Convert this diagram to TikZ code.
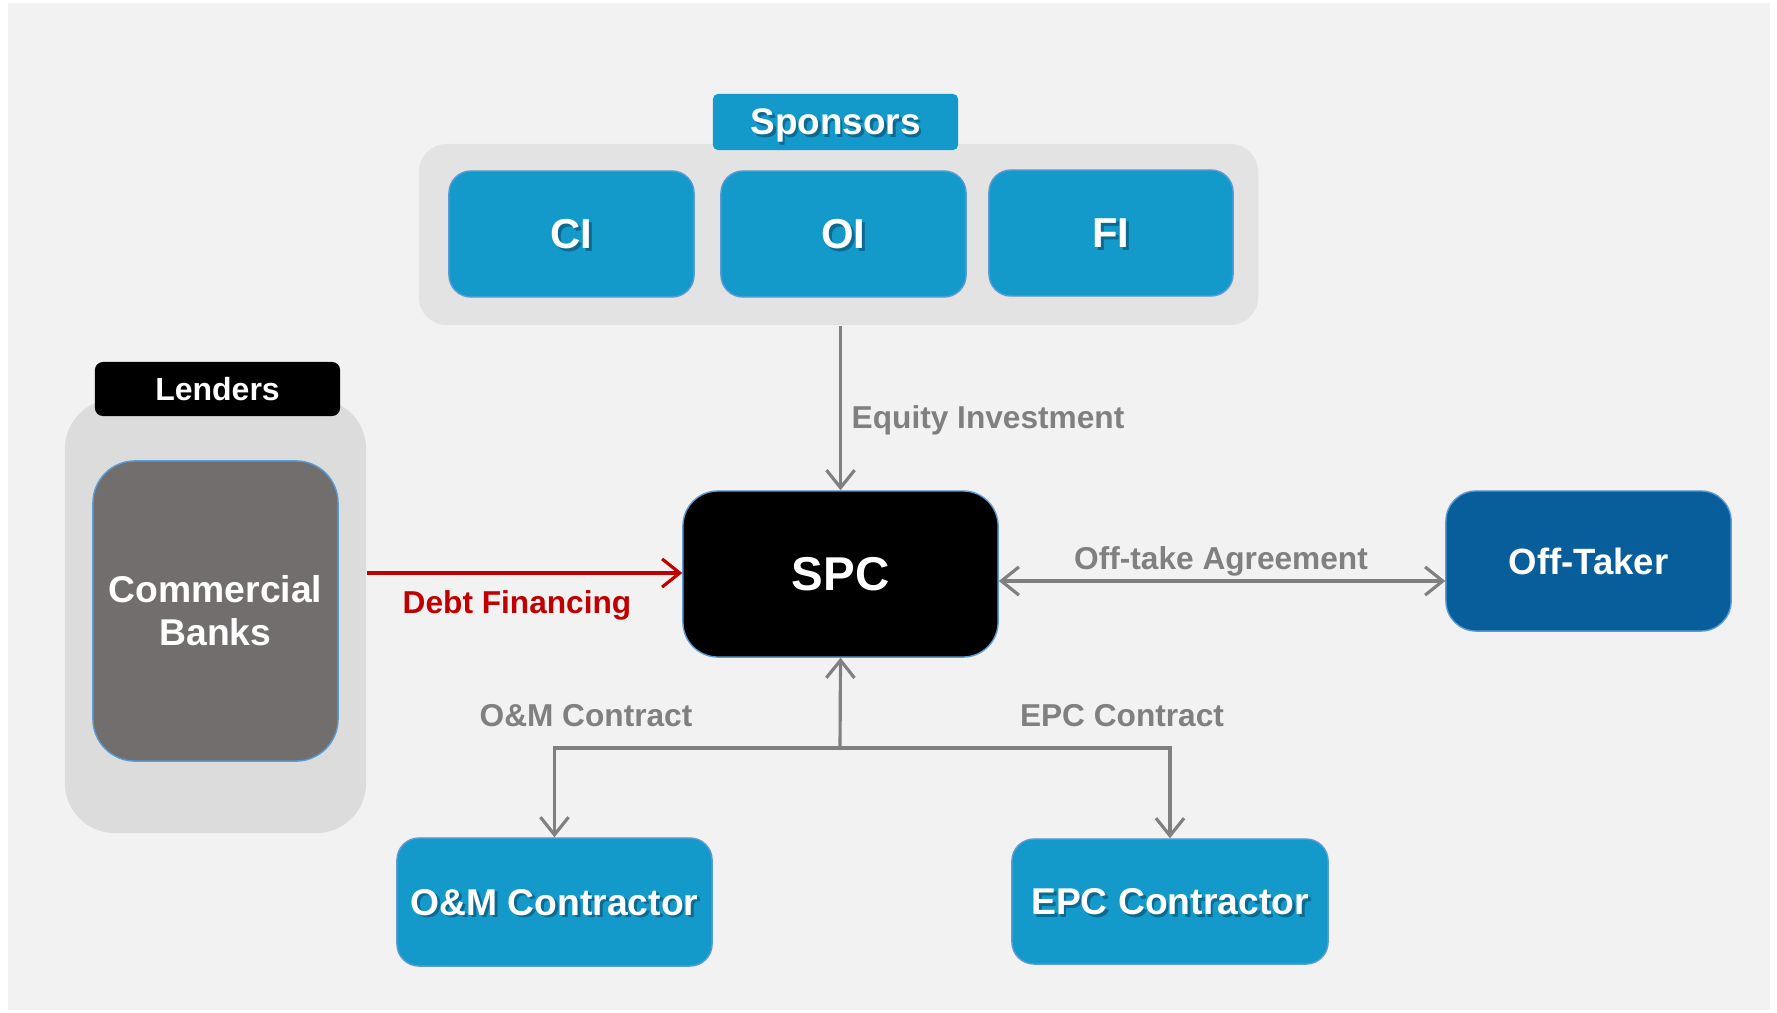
\documentclass[tikz,border=0pt]{standalone}
\usepackage{fontspec}
\setmainfont{Liberation Sans}
\usetikzlibrary{arrows.meta}
\definecolor{bgcol}{HTML}{F2F2F2}
\definecolor{grpcol}{HTML}{E3E3E3}
\definecolor{lendcol}{HTML}{DCDCDC}
\definecolor{boxblue}{HTML}{1399CA}
\definecolor{edgeblue}{HTML}{5B9BD5}
\definecolor{shadeblue}{HTML}{0C6A90}
\definecolor{darkblue}{HTML}{085E9A}
\definecolor{bankgrey}{HTML}{726E6D}
\definecolor{arrgrey}{HTML}{808080}
\definecolor{debtred}{HTML}{C00000}
\newcommand{\shadowed}[1]{\leavevmode\rlap{\kern0.8pt\raisebox{-0.8pt}{\textcolor{shadeblue}{#1}}}#1}

\begin{document}
\begin{tikzpicture}[x=0.01cm, y=-0.01cm,
    party/.style={draw=edgeblue, line width=0.4pt, fill=boxblue, text=white,
        rounded corners=0.22cm, align=center, inner sep=0pt,
        font=\bfseries\fontsize{10.6}{12.3}\selectfont},
    grp/.style={fill=grpcol, rounded corners=0.28cm, inner sep=0pt},
    tag/.style={fill=boxblue, text=white, rounded corners=0.05cm, inner sep=0pt,
        minimum width=2.45cm, text depth=0pt, font=\bfseries\fontsize{10.5}{12}\selectfont},
    flow/.style={draw=arrgrey, line width=0.9pt, -{Straight Barb[length=5pt,width=8pt]}},
    lbl/.style={text=arrgrey, inner sep=0pt, text depth=0pt, font=\bfseries\fontsize{9}{11}\selectfont}]
\fill[white] (0,0) rectangle (1777,1012);
\fill[bgcol] (8,3) rectangle (1770,1010);
\node[grp, minimum width=8.39cm, minimum height=1.81cm] (spgrp) at (838.5,234.5) {};
\node[tag, minimum height=0.56cm] (sponsors) at (835.5,122) {\shadowed{Sponsors}};
\node[party, minimum width=2.45cm, minimum height=1.26cm, text depth=0pt,
    font=\bfseries\fontsize{11.9}{14}\selectfont] (ci) at (571.5,234) {\shadowed{CI}};
\node[party, minimum width=2.45cm, minimum height=1.26cm, text depth=0pt,
    font=\bfseries\fontsize{11.9}{14}\selectfont] (oi) at (843.5,234) {\shadowed{OI}};
\node[party, minimum width=2.44cm, minimum height=1.26cm, text depth=0pt,
    font=\bfseries\fontsize{11.9}{14}\selectfont] (fi) at (1111,233) {\shadowed{FI}};
\node[grp, fill=lendcol, rounded corners=0.5cm, minimum width=3.01cm,
    minimum height=4.34cm] (lendgrp) at (215.5,616) {};
\node[tag, fill=black, rounded corners=0.08cm, minimum height=0.54cm,
    font=\bfseries\fontsize{9.1}{11}\selectfont] (lenders) at (217.5,389) {Lenders};
\node[party, fill=bankgrey, rounded corners=0.42cm, minimum width=2.45cm,
    minimum height=3.0cm] (banks) at (215.5,611) {Commercial\\Banks};
\node[party, fill=black, rounded corners=0.35cm, minimum width=3.15cm,
    minimum height=1.66cm, font=\bfseries\fontsize{13.5}{16}\selectfont] (spc) at (840.5,574) {SPC};
\node[party, fill=darkblue, rounded corners=0.3cm, minimum width=2.85cm,
    minimum height=1.4cm, font=\bfseries\fontsize{10.4}{12}\selectfont] (offtaker) at (1588.5,561) {Off-Taker};
\node[party, minimum width=3.15cm, minimum height=1.28cm, text depth=0pt] (om) at (554.5,902) {\shadowed{O\&M Contractor}};
\node[party, minimum width=3.16cm, minimum height=1.25cm, text depth=0pt] (epc) at (1170,901.5) {\shadowed{EPC Contractor}};
\draw[flow] (spgrp.south -| spc.north) -- (spc.north);
\node[lbl, anchor=west] (eqlbl) at (851,417) {Equity Investment};
\draw[flow, draw=debtred] (lendgrp.east |- 0,573) -- (spc.west |- 0,573);
\node[lbl, text=debtred] (debtlbl) at (517,602) {Debt Financing};
\coordinate (otk) at (0,581);
\draw[flow, {Straight Barb[length=5pt,width=8pt]}-{Straight Barb[length=5pt,width=8pt]}]
    (spc.east |- otk) -- (offtaker.west |- otk);
\node[lbl] (otlbl) at (1221,558) {Off-take Agreement};
\coordinate (jn) at (840,748);
\draw[flow] (jn) -- (spc.south);
\draw[flow] (jn) -| (om.north);
\draw[flow] (jn) -| (epc.north);
\node[lbl] (omlbl) at (586,715) {O\&M Contract};
\node[lbl] (epclbl) at (1122,715) {EPC Contract};
\end{tikzpicture}
\end{document}
